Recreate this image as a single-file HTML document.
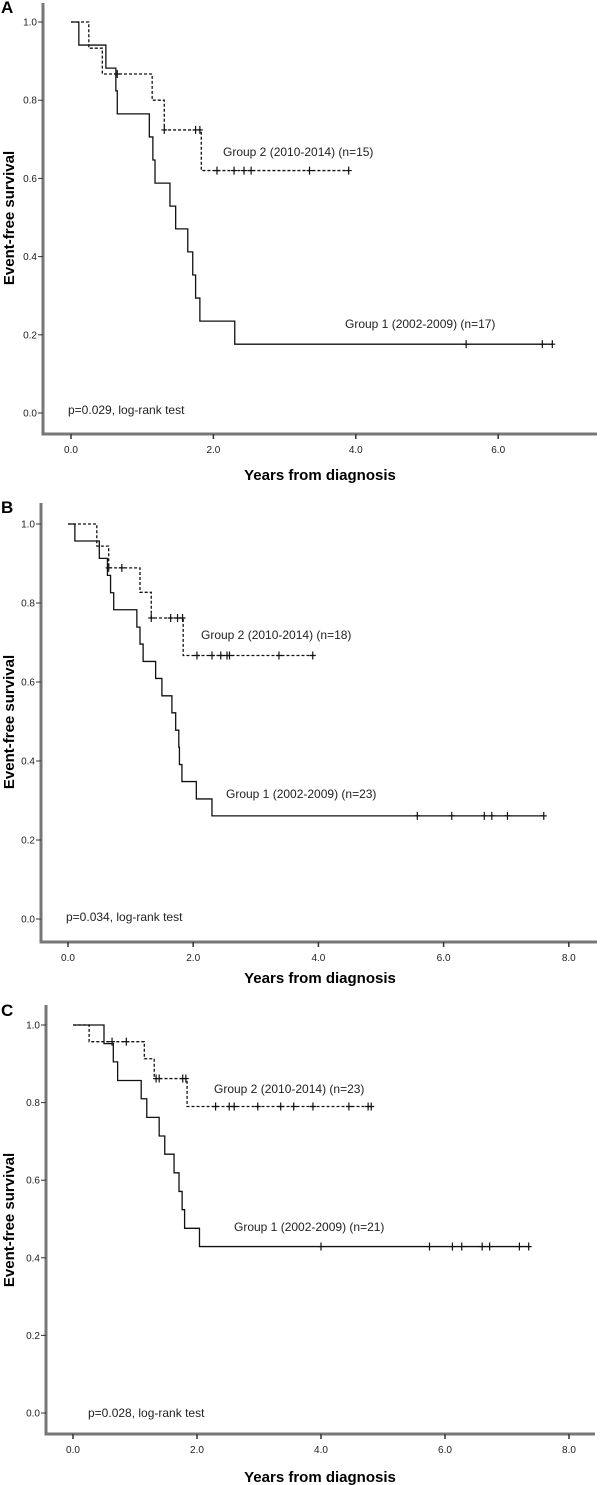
<!DOCTYPE html>
<html><head><meta charset="utf-8"><style>
html,body{margin:0;padding:0;background:#fff;}
svg{display:block;font-family:"Liberation Sans",Arial,sans-serif;}
</style></head><body>
<svg id="chart" width="600" height="1485" viewBox="0 0 600 1485" xmlns="http://www.w3.org/2000/svg"></svg>
<script>
// ---- Panel A data ----
const aG2Times=[0.25,0.44,1.14,1.31,1.83];
const aG2Surv=[0.933,0.867,0.8,0.724,0.62];
const aG2End=3.9;
const aG2Censor=[0.65,1.31,1.75,1.81,2.05,2.29,2.43,2.53,3.35,3.9];
const aG1Times=[0.11,0.49,0.63,0.65,1.1,1.15,1.18,1.39,1.47,1.64,1.71,1.75,1.81,2.3];
const aG1Surv=[0.941,0.882,0.824,0.765,0.706,0.647,0.588,0.529,0.471,0.412,0.353,0.294,0.235,0.176];
const aG1End=6.76;
const aG1Censor=[5.55,6.62,6.76];
const aXTicks=[0,2,4,6];
// ---- Panel B data ----
const bG2Times=[0.46,0.65,1.15,1.33,1.84];
const bG2Surv=[0.944,0.889,0.827,0.762,0.667];
const bG2End=3.91;
const bG2Censor=[0.65,0.86,1.33,1.64,1.75,1.83,2.06,2.3,2.44,2.54,2.58,3.37,3.91];
const bG1Times=[0.11,0.5,0.63,0.68,0.73,1.1,1.15,1.2,1.4,1.5,1.66,1.72,1.77,1.78,1.82,2.05,2.3];
const bG1Surv=[0.957,0.913,0.87,0.826,0.783,0.739,0.696,0.652,0.609,0.565,0.522,0.478,0.435,0.391,0.348,0.304,0.261];
const bG1End=7.6;
const bG1Censor=[5.58,6.13,6.65,6.77,7.02,7.6];
const bXTicks=[0,2,4,6,8];
// ---- Panel C data ----
const cG2Times=[0.26,1.15,1.31,1.84];
const cG2Surv=[0.957,0.913,0.862,0.79];
const cG2End=4.81;
const cG2Censor=[0.63,0.86,1.34,1.39,1.77,1.82,2.3,2.52,2.6,2.98,3.35,3.56,3.87,4.45,4.76,4.81];
const cG1Times=[0.5,0.65,0.72,1.1,1.19,1.39,1.48,1.63,1.71,1.76,1.8,2.04];
const cG1Surv=[0.952,0.905,0.857,0.81,0.762,0.714,0.667,0.619,0.571,0.524,0.476,0.429];
const cG1End=7.38;
const cG1Censor=[4.0,5.75,6.12,6.27,6.6,6.72,7.2,7.35];
const cXTicks=[0,2,4,6,8];
const yTicks=[0,0.2,0.4,0.6,0.8,1.0];

const NS="http://www.w3.org/2000/svg";
const svg=document.getElementById('chart');
function mk(tag,attrs,parent,text){
  const e=document.createElementNS(NS,tag);
  for(const k in attrs)e.setAttribute(k,attrs[k]);
  if(text!==undefined)e.textContent=text;
  (parent||svg).appendChild(e);return e;
}
function survAt(times,surv,t){let s=1;for(let i=0;i<times.length;i++){if(times[i]<=t)s=surv[i];}return s;}

function panel(p){
  const g=mk('g',{});
  
  
  const X=t=>p.x0+t*p.ppy;
  const Y=v=>p.y0-(p.y0-p.y1)*v;
  // letter
  const L=mk('text',{x:1,y:p.letterY,'font-size':17,'font-weight':'bold'},g,p.letter);
  
  
  // axes
  const ya=mk('line',{x1:p.ax,y1:p.top,x2:p.ax,y2:p.bottom,stroke:'#777','stroke-width':3},g);
  
  
  const xa=mk('line',{x1:p.ax-1.5,y1:p.bottom,x2:p.xEnd,y2:p.bottom,stroke:'#777','stroke-width':3},g);
  
  
  yTicks.forEach(v=>{
    mk('line',{x1:p.ax-5,y1:Y(v),x2:p.ax,y2:Y(v),stroke:'#333','stroke-width':1},g);
    const t=mk('text',{x:p.ax-6,y:Y(v)+3.5,'font-size':10,'text-anchor':'end',fill:'#222'},g,v.toFixed(1));
    
    
  });
  p.xticks.forEach(v=>{
    mk('line',{x1:X(v),y1:p.bottom,x2:X(v),y2:p.bottom+5,stroke:'#333','stroke-width':1.5},g);
    const t=mk('text',{x:X(v),y:p.bottom+19,'font-size':10,'text-anchor':'middle',fill:'#222'},g,v.toFixed(1));
    
    
  });
  const yt=mk('text',{x:0,y:0,'font-size':15,'font-weight':'bold','text-anchor':'middle',transform:`translate(${p.ytX},${p.ytY}) rotate(-90)`},g,'Event-free survival');
  
  
  const xt=mk('text',{x:320,y:p.xtY,'font-size':15,'font-weight':'bold','text-anchor':'middle'},g,'Years from diagnosis');
  
  
  // curves
  function curve(times,surv,end,cens,dash,name){
    let d=`M${X(0)},${Y(1)}`;let s=1;
    times.forEach((t,i)=>{d+=` L${X(t)},${Y(s)} L${X(t)},${Y(surv[i])}`;s=surv[i];});
    d+=` L${X(end)},${Y(s)}`;
    const path=mk('path',{d:d,fill:'none',stroke:'#111','stroke-width':1.3,'stroke-dasharray':dash?'3,2':'none'},g);
    
    
    cens.forEach(c=>{
      const v=survAt(times,surv,c);
      const m=mk('path',{d:`M${X(c)-3},${Y(v)} H${X(c)+3} M${X(c)},${Y(v)-4} V${Y(v)+4}`,stroke:'#111','stroke-width':1.2},g);
      
      
    });
  }
  curve(p.g1t,p.g1s,p.g1e,p.g1c,false,'group1-curve');
  curve(p.g2t,p.g2s,p.g2e,p.g2c,true,'group2-curve');
  const l2=mk('text',{x:p.l2x,y:p.l2y,'font-size':12,fill:'#222'},g,p.l2);
  
  
  const l1=mk('text',{x:p.l1x,y:p.l1y,'font-size':12,fill:'#222'},g,p.l1);
  
  
  const pv=mk('text',{x:p.px,y:p.py,'font-size':12,fill:'#222'},g,p.ptxt);
  
  
}

panel({letter:'A',letterY:13,ax:43,top:3,bottom:434,xEnd:597,y1:22,y0:413,x0:71,ppy:71.2,xticks:aXTicks,
  ytX:14,ytY:218,xtY:480,
  g1t:aG1Times,g1s:aG1Surv,g1e:aG1End,g1c:aG1Censor,g2t:aG2Times,g2s:aG2Surv,g2e:aG2End,g2c:aG2Censor,
  l2:'Group 2 (2010-2014) (n=15)',l2x:223,l2y:156,l1:'Group 1 (2002-2009) (n=17)',l1x:345,l1y:328,
  ptxt:'p=0.029, log-rank test',px:68,py:414});
panel({letter:'B',letterY:513,ax:41,top:503,bottom:942,xEnd:597,y1:524,y0:919,x0:68,ppy:62.6,xticks:bXTicks,
  ytX:14,ytY:722,xtY:983,
  g1t:bG1Times,g1s:bG1Surv,g1e:bG1End,g1c:bG1Censor,g2t:bG2Times,g2s:bG2Surv,g2e:bG2End,g2c:bG2Censor,
  l2:'Group 2 (2010-2014) (n=18)',l2x:201,l2y:639,l1:'Group 1 (2002-2009) (n=23)',l1x:226,l1y:798,
  ptxt:'p=0.034, log-rank test',px:66,py:921});
panel({letter:'C',letterY:1016,ax:46,top:1005,bottom:1434,xEnd:595,y1:1025,y0:1413,x0:73,ppy:62,xticks:cXTicks,
  ytX:14,ytY:1220,xtY:1482,
  g1t:cG1Times,g1s:cG1Surv,g1e:cG1End,g1c:cG1Censor,g2t:cG2Times,g2s:cG2Surv,g2e:cG2End,g2c:cG2Censor,
  l2:'Group 2 (2010-2014) (n=23)',l2x:214,l2y:1093,l1:'Group 1 (2002-2009) (n=21)',l1x:234,l1y:1231,
  ptxt:'p=0.028, log-rank test',px:88,py:1417});
</script>
</body></html>
